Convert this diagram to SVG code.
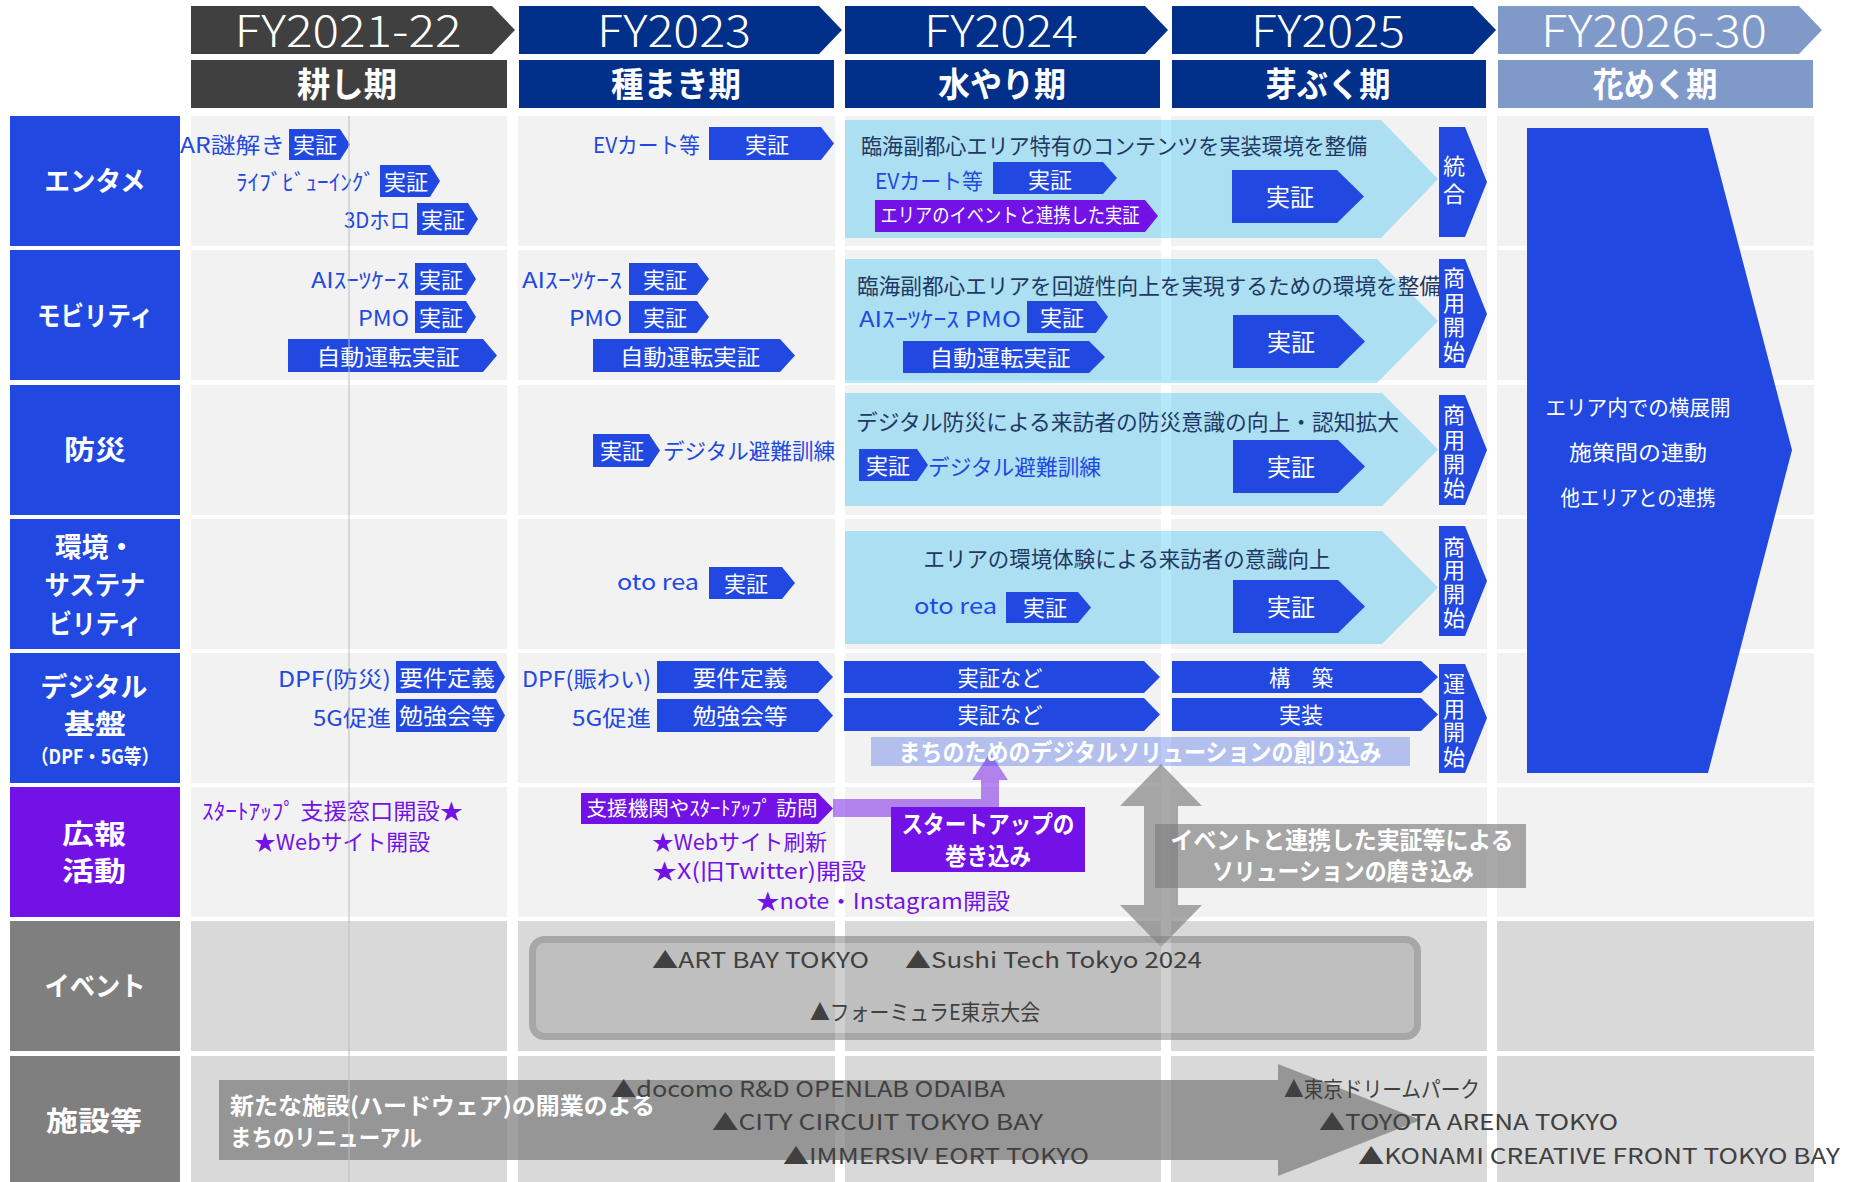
<svg xmlns="http://www.w3.org/2000/svg" width="1854" height="1182" viewBox="0 0 1854 1182">
<style>
.t{font-family:"Noto Sans CJK JP","Noto Sans",sans-serif;dominant-baseline:central;transform:translateY(-1.5px)}
.m{text-anchor:middle}.e{text-anchor:end}
.wt{fill:#fff}.bt{fill:#2149E1}.pt{fill:#7212E6}.nt{fill:#1F3864}.gt{fill:#404040}
.bd{font-weight:700}.lt{font-weight:300}
.c1{fill:#F2F2F2}.c2{fill:#D9D9D9}
.lb{fill:#2149E1}.lp{fill:#7212E6}.lg{fill:#7F7F7F}
.tb{fill:#2149E1}.tp{fill:#7212E6}
.chev{fill:#00B0F0;fill-opacity:0.29}
.s22{font-size:22px}.s20{font-size:20px}.s24{font-size:24px}.s26{font-size:26px}.s27{font-size:27px}
</style>
<rect width="1854" height="1182" fill="#fff"/>
<g id="grid">
<rect class="lb" x="10" y="116" width="170" height="130"/>
<rect class="lb" x="10" y="250" width="170" height="130"/>
<rect class="lb" x="10" y="385" width="170" height="130"/>
<rect class="lb" x="10" y="519" width="170" height="130"/>
<rect class="lb" x="10" y="653" width="170" height="130"/>
<rect class="lp" x="10" y="787" width="170" height="130"/>
<rect class="lg" x="10" y="921" width="170" height="130"/>
<rect class="lg" x="10" y="1056" width="170" height="130"/>
<g class="c1">
<rect x="191" y="116" width="316" height="130"/><rect x="518" y="116" width="317" height="130"/><rect x="845" y="116" width="316" height="130"/><rect x="1171" y="116" width="316" height="130"/><rect x="1497" y="116" width="317" height="130"/>
<rect x="191" y="250" width="316" height="130"/><rect x="518" y="250" width="317" height="130"/><rect x="845" y="250" width="316" height="130"/><rect x="1171" y="250" width="316" height="130"/><rect x="1497" y="250" width="317" height="130"/>
<rect x="191" y="385" width="316" height="130"/><rect x="518" y="385" width="317" height="130"/><rect x="845" y="385" width="316" height="130"/><rect x="1171" y="385" width="316" height="130"/><rect x="1497" y="385" width="317" height="130"/>
<rect x="191" y="519" width="316" height="130"/><rect x="518" y="519" width="317" height="130"/><rect x="845" y="519" width="316" height="130"/><rect x="1171" y="519" width="316" height="130"/><rect x="1497" y="519" width="317" height="130"/>
<rect x="191" y="653" width="316" height="130"/><rect x="518" y="653" width="317" height="130"/><rect x="845" y="653" width="316" height="130"/><rect x="1171" y="653" width="316" height="130"/><rect x="1497" y="653" width="317" height="130"/>
<rect x="191" y="787" width="316" height="130"/><rect x="518" y="787" width="317" height="130"/><rect x="845" y="787" width="316" height="130"/><rect x="1171" y="787" width="316" height="130"/><rect x="1497" y="787" width="317" height="130"/>
</g>
<g class="c2">
<rect x="191" y="921" width="316" height="130"/><rect x="518" y="921" width="317" height="130"/><rect x="845" y="921" width="316" height="130"/><rect x="1171" y="921" width="316" height="130"/><rect x="1497" y="921" width="317" height="130"/>
<rect x="191" y="1056" width="316" height="130"/><rect x="518" y="1056" width="317" height="130"/><rect x="845" y="1056" width="316" height="130"/><rect x="1171" y="1056" width="316" height="130"/><rect x="1497" y="1056" width="317" height="130"/>
</g>
</g>
<g id="header">
<path d="M191,6 H492 L515,30 L492,54 H191 Z" fill="#404040"/>
<path d="M519,6 H819 L842,30 L819,54 H519 Z" fill="#00308A"/>
<path d="M845,6 H1145 L1168,30 L1145,54 H845 Z" fill="#00308A"/>
<path d="M1172,6 H1473 L1496,30 L1473,54 H1172 Z" fill="#00308A"/>
<path d="M1498,6 H1799 L1822,30 L1799,54 H1498 Z" fill="#7F99C9"/>
<rect x="191" y="60" width="316" height="48" fill="#404040"/>
<rect x="519" y="60" width="315" height="48" fill="#00308A"/>
<rect x="845" y="60" width="315" height="48" fill="#00308A"/>
<rect x="1172" y="60" width="314" height="48" fill="#00308A"/>
<rect x="1498" y="60" width="315" height="48" fill="#7F99C9"/>
<g class="t wt m lt" font-size="44">
<text x="348" y="29" textLength="227" lengthAdjust="spacingAndGlyphs">FY2021-22</text>
<text x="674" y="29" textLength="154" lengthAdjust="spacingAndGlyphs">FY2023</text>
<text x="1001" y="29" textLength="154" lengthAdjust="spacingAndGlyphs">FY2024</text>
<text x="1328" y="29" textLength="154" lengthAdjust="spacingAndGlyphs">FY2025</text>
<text x="1654" y="29" textLength="226" lengthAdjust="spacingAndGlyphs">FY2026-30</text>
</g>
<g class="t wt m bd" font-size="34">
<text x="347" y="84" textLength="100" lengthAdjust="spacingAndGlyphs">耕し期</text>
<text x="676" y="84" textLength="130" lengthAdjust="spacingAndGlyphs">種まき期</text>
<text x="1002" y="84" textLength="128" lengthAdjust="spacingAndGlyphs">水やり期</text>
<text x="1328" y="84" textLength="125" lengthAdjust="spacingAndGlyphs">芽ぶく期</text>
<text x="1655" y="84" textLength="125" lengthAdjust="spacingAndGlyphs">花めく期</text>
</g>
</g>
<g id="row-labels" class="t wt m bd s27">
<text x="95" y="181" textLength="101" lengthAdjust="spacingAndGlyphs">エンタメ</text>
<text x="95" y="316" textLength="116" lengthAdjust="spacingAndGlyphs">モビリティ</text>
<text x="95" y="450" textLength="62" lengthAdjust="spacingAndGlyphs">防災</text>
<text x="95" y="547" textLength="80" lengthAdjust="spacingAndGlyphs">環境・</text>
<text x="95" y="585" textLength="101" lengthAdjust="spacingAndGlyphs">サステナ</text>
<text x="95" y="624" textLength="93" lengthAdjust="spacingAndGlyphs">ビリティ</text>
<text x="94" y="687" textLength="107" lengthAdjust="spacingAndGlyphs">デジタル</text>
<text x="95" y="724" textLength="62" lengthAdjust="spacingAndGlyphs">基盤</text>
<text x="95" y="757" class="s20" textLength="128" lengthAdjust="spacingAndGlyphs">（DPF・5G等）</text>
<text x="94" y="834" textLength="64" lengthAdjust="spacingAndGlyphs">広報</text>
<text x="94" y="871" textLength="64" lengthAdjust="spacingAndGlyphs">活動</text>
<text x="95" y="986" textLength="101" lengthAdjust="spacingAndGlyphs">イベント</text>
<text x="94" y="1121" textLength="96" lengthAdjust="spacingAndGlyphs">施設等</text>
</g>
<g id="connectors">
<path id="startup-arrow" d="M833,799 H981 V780 H972 L990,753 L1008,780 H999 V817 H833 Z" fill="#7212E6" fill-opacity="0.5"/>
<path id="event-double-arrow" d="M1161,764 L1202,806 H1178 V905 H1202 L1161,947 L1120,905 H1144 V806 H1120 Z" fill="#7F7F7F" fill-opacity="0.67"/>
</g>
<g id="entame">
<g class="t bt s22 e">
<text x="285" y="144" textLength="105" lengthAdjust="spacingAndGlyphs">AR謎解き</text>
<text x="375" y="181" textLength="139" lengthAdjust="spacingAndGlyphs">ﾗｲﾌﾞﾋﾞｭｰｲﾝｸﾞ</text>
<text x="410" y="219" textLength="66" lengthAdjust="spacingAndGlyphs">3Dホロ</text>
<text x="700" y="144" textLength="107" lengthAdjust="spacingAndGlyphs">EVカート等</text>
</g>
<path class="tb" d="M289,129 H340 L350,144.5 L340,160 H289 Z"/>
<path class="tb" d="M380,165 H430 L440,181 L430,197 H380 Z"/>
<path class="tb" d="M417,203 H468 L478,219 L468,235 H417 Z"/>
<path class="tb" d="M709,127 H821 L834,143.5 L821,160 H709 Z"/>
<g class="t wt m s22">
<text x="315" y="144.5">実証</text>
<text x="406" y="181">実証</text>
<text x="443" y="219">実証</text>
<text x="767" y="144">実証</text>
</g>
<path class="chev" d="M845,120 H1381 L1438,179 L1381,238 H845 Z"/>
<text class="t nt s22" x="861" y="145" textLength="506" lengthAdjust="spacingAndGlyphs">臨海副都心エリア特有のコンテンツを実装環境を整備</text>
<text class="t bt s22" x="875" y="180" textLength="108" lengthAdjust="spacingAndGlyphs">EVカート等</text>
<path class="tb" d="M993,162 H1103 L1117,178 L1103,194 H993 Z"/>
<text class="t wt m s22" x="1050" y="179">実証</text>
<path class="tp" d="M875,200 H1145 L1158,216 L1145,232 H875 Z"/>
<text class="t wt m s20" x="1010" y="216" textLength="259" lengthAdjust="spacingAndGlyphs">エリアのイベントと連携した実証</text>
<path class="tb" d="M1232,170 H1337 L1364,196.5 L1337,223 H1232 Z"/>
<text class="t wt m s24" x="1290" y="197">実証</text>
<path class="tb" d="M1439,127 H1465 L1487,182 L1465,237 H1439 Z"/>
<g class="t wt m s22"><text x="1454" y="165">統</text><text x="1454" y="193">合</text></g>
</g>
<g id="mobility">
<g class="t bt s22 e">
<text x="409" y="279" textLength="98" lengthAdjust="spacingAndGlyphs">AIｽｰﾂｹｰｽ</text>
<text x="409" y="317" textLength="51" lengthAdjust="spacingAndGlyphs">PMO</text>
<text x="622" y="279" textLength="100" lengthAdjust="spacingAndGlyphs">AIｽｰﾂｹｰｽ</text>
<text x="622" y="317" textLength="53" lengthAdjust="spacingAndGlyphs">PMO</text>
</g>
<path class="tb" d="M415,263 H466 L476,279 L466,295 H415 Z"/>
<path class="tb" d="M415,301 H466 L476,317 L466,333 H415 Z"/>
<path class="tb" d="M288,339 H483 L497,355.5 L483,372 H288 Z"/>
<path class="tb" d="M629,263 H697 L709,279 L697,295 H629 Z"/>
<path class="tb" d="M629,301 H697 L709,317 L697,333 H629 Z"/>
<path class="tb" d="M593,339 H780 L795,355.5 L780,372 H593 Z"/>
<g class="t wt m s22">
<text x="441" y="279">実証</text>
<text x="441" y="317">実証</text>
<text x="388" y="356" textLength="143" lengthAdjust="spacingAndGlyphs">自動運転実証</text>
<text x="665" y="279">実証</text>
<text x="665" y="317">実証</text>
<text x="690" y="356" textLength="140" lengthAdjust="spacingAndGlyphs">自動運転実証</text>
</g>
<path class="chev" d="M845,259 H1377 L1438,321 L1377,383 H845 Z"/>
<text class="t nt s22" x="857" y="285" textLength="584" lengthAdjust="spacingAndGlyphs">臨海副都心エリアを回遊性向上を実現するための環境を整備</text>
<text class="t bt s22" x="859" y="318" textLength="162" lengthAdjust="spacingAndGlyphs">AIｽｰﾂｹｰｽ PMO</text>
<path class="tb" d="M1027,301 H1096 L1108,317 L1096,333 H1027 Z"/>
<text class="t wt m s22" x="1062" y="317">実証</text>
<path class="tb" d="M903,341 H1089 L1105,357 L1089,373 H903 Z"/>
<text class="t wt m s22" x="1000" y="357" textLength="141" lengthAdjust="spacingAndGlyphs">自動運転実証</text>
<path class="tb" d="M1233,315 H1338 L1365,341.5 L1338,368 H1233 Z"/>
<text class="t wt m s24" x="1291" y="342">実証</text>
<path class="tb" d="M1439,259 H1465 L1487,314 L1465,368 H1439 Z"/>
<g class="t wt m s22"><text x="1454" y="277">商</text><text x="1454" y="302">用</text><text x="1454" y="326">開</text><text x="1454" y="351">始</text></g>
</g>
<g id="bousai">
<path class="tb" d="M593,434 H649 L660,450.5 L649,467 H593 Z"/>
<text class="t wt m s22" x="622" y="450">実証</text>
<text class="t bt s22" x="663" y="450" textLength="172" lengthAdjust="spacingAndGlyphs">デジタル避難訓練</text>
<path class="chev" d="M845,393 H1382 L1438,449.5 L1382,506 H845 Z"/>
<text class="t nt s22" x="856" y="421" textLength="543" lengthAdjust="spacingAndGlyphs">デジタル防災による来訪者の防災意識の向上・認知拡大</text>
<path class="tb" d="M859,449 H917 L928,465 L917,481 H859 Z"/>
<text class="t wt m s22" x="888" y="465">実証</text>
<text class="t bt s22" x="928" y="466" textLength="173" lengthAdjust="spacingAndGlyphs">デジタル避難訓練</text>
<path class="tb" d="M1233,440 H1338 L1365,466.5 L1338,493 H1233 Z"/>
<text class="t wt m s24" x="1291" y="467">実証</text>
<path class="tb" d="M1439,395 H1465 L1487,450 L1465,505 H1439 Z"/>
<g class="t wt m s22"><text x="1454" y="414">商</text><text x="1454" y="439">用</text><text x="1454" y="463">開</text><text x="1454" y="487">始</text></g>
</g>
<g id="kankyo">
<text class="t bt s22 e" x="699" y="581" textLength="82" lengthAdjust="spacingAndGlyphs">oto rea</text>
<path class="tb" d="M709,567 H782 L795,583 L782,599 H709 Z"/>
<text class="t wt m s22" x="746" y="583">実証</text>
<path class="chev" d="M845,531 H1382 L1438,587.5 L1382,644 H845 Z"/>
<text class="t nt s22 m" x="1127" y="558" textLength="407" lengthAdjust="spacingAndGlyphs">エリアの環境体験による来訪者の意識向上</text>
<text class="t bt s22" x="914" y="605" textLength="83" lengthAdjust="spacingAndGlyphs">oto rea</text>
<path class="tb" d="M1006,592 H1078 L1091,607.5 L1078,623 H1006 Z"/>
<text class="t wt m s22" x="1045" y="607.5">実証</text>
<path class="tb" d="M1233,580 H1338 L1365,606.5 L1338,633 H1233 Z"/>
<text class="t wt m s24" x="1291" y="607">実証</text>
<path class="tb" d="M1439,526 H1465 L1487,581 L1465,636 H1439 Z"/>
<g class="t wt m s22"><text x="1454" y="546">商</text><text x="1454" y="569">用</text><text x="1454" y="593">開</text><text x="1454" y="617">始</text></g>
</g>
<g id="digital">
<g class="t bt s22 e">
<text x="391" y="678" textLength="113" lengthAdjust="spacingAndGlyphs">DPF(防災)</text>
<text x="391" y="717" textLength="78" lengthAdjust="spacingAndGlyphs">5G促進</text>
<text x="651" y="678" textLength="129" lengthAdjust="spacingAndGlyphs">DPF(賑わい)</text>
<text x="651" y="717" textLength="79" lengthAdjust="spacingAndGlyphs">5G促進</text>
</g>
<path class="tb" d="M396,661 H496 L505,677 L496,693 H396 Z"/>
<path class="tb" d="M396,699 H496 L505,715.5 L496,732 H396 Z"/>
<path class="tb" d="M657,661 H818 L833,677 L818,693 H657 Z"/>
<path class="tb" d="M657,699 H818 L833,715.5 L818,732 H657 Z"/>
<path class="tb" d="M844,661 H1144 L1160,677 L1144,693 H844 Z"/>
<path class="tb" d="M844,698 H1144 L1160,714.5 L1144,731 H844 Z"/>
<path class="tb" d="M1172,661 H1421 L1438,677 L1421,693 H1172 Z"/>
<path class="tb" d="M1172,698 H1421 L1438,714.5 L1421,731 H1172 Z"/>
<g class="t wt m s22">
<text x="447" y="677" textLength="96" lengthAdjust="spacingAndGlyphs">要件定義</text>
<text x="447" y="715.5" textLength="96" lengthAdjust="spacingAndGlyphs">勉強会等</text>
<text x="740" y="677" textLength="95" lengthAdjust="spacingAndGlyphs">要件定義</text>
<text x="740" y="715.5" textLength="95" lengthAdjust="spacingAndGlyphs">勉強会等</text>
<text x="1000" y="677" textLength="85" lengthAdjust="spacingAndGlyphs">実証など</text>
<text x="1000" y="714.5" textLength="85" lengthAdjust="spacingAndGlyphs">実証など</text>
<text x="1301" y="677" textLength="64" lengthAdjust="spacingAndGlyphs">構　築</text>
<text x="1301" y="714.5">実装</text>
</g>
<path class="tb" d="M1439,664 H1465 L1487,718 L1465,773 H1439 Z"/>
<g class="t wt m s22"><text x="1454" y="683">運</text><text x="1454" y="708">用</text><text x="1454" y="731">開</text><text x="1454" y="756">始</text></g>
<rect x="871" y="737" width="539" height="29" fill="#2149E1" fill-opacity="0.3"/>
<text class="t wt m bd s24" x="1140" y="752" textLength="483" lengthAdjust="spacingAndGlyphs">まちのためのデジタルソリューションの創り込み</text>
</g>
<g id="future">
<path d="M1527,128 H1708 L1792,450 L1708,773 H1527 Z" fill="#2149E1"/>
<g class="t wt m" font-size="21">
<text x="1638" y="407" textLength="185" lengthAdjust="spacingAndGlyphs">エリア内での横展開</text>
<text x="1638" y="452" textLength="138" lengthAdjust="spacingAndGlyphs">施策間の連動</text>
<text x="1638" y="497" textLength="155" lengthAdjust="spacingAndGlyphs">他エリアとの連携</text>
</g>
</g>
<g id="pr">
<g class="t pt s22">
<text x="202" y="810" textLength="261" lengthAdjust="spacingAndGlyphs">ｽﾀｰﾄｱｯﾌﾟ 支援窓口開設★</text>
<text x="254" y="841" textLength="176" lengthAdjust="spacingAndGlyphs">★Webサイト開設</text>
<text x="652" y="841" textLength="175" lengthAdjust="spacingAndGlyphs">★Webサイト刷新</text>
<text x="652" y="870" textLength="214" lengthAdjust="spacingAndGlyphs">★X(旧Twitter)開設</text>
<text x="756" y="900" textLength="254" lengthAdjust="spacingAndGlyphs">★note・Instagram開設</text>
</g>
<path class="tp" d="M581,793 H818 L833,808.5 L818,824 H581 Z"/>
<text class="t wt m s20" x="702" y="808.5" textLength="231" lengthAdjust="spacingAndGlyphs">支援機関やｽﾀｰﾄｱｯﾌﾟ 訪問</text>
</g>
<g id="startup-box">
<rect class="tp" x="891" y="807" width="194" height="65"/>
<g class="t wt m bd s24">
<text x="988" y="824" textLength="173" lengthAdjust="spacingAndGlyphs">スタートアップの</text>
<text x="988" y="856" textLength="86" lengthAdjust="spacingAndGlyphs">巻き込み</text>
</g>
</g>
<g id="solution-box">
<rect x="1155" y="824" width="371" height="64" fill="#7F7F7F" fill-opacity="0.67"/>
<g class="t wt m bd s24">
<text x="1342" y="840" textLength="343" lengthAdjust="spacingAndGlyphs">イベントと連携した実証等による</text>
<text x="1343" y="871" textLength="262" lengthAdjust="spacingAndGlyphs">ソリューションの磨き込み</text>
</g>
</g>
<g id="events">
<g opacity="0.55"><rect x="532.5" y="939.5" width="885" height="97" rx="12" fill="#ABABAB" stroke="#808080" stroke-width="7"/></g>
<g class="t gt s22">
<text x="652" y="959" textLength="217" lengthAdjust="spacingAndGlyphs">▲ART BAY TOKYO</text>
<text x="905" y="959" textLength="297" lengthAdjust="spacingAndGlyphs">▲Sushi Tech Tokyo 2024</text>
<text x="810" y="1011" textLength="230" lengthAdjust="spacingAndGlyphs">▲フォーミュラE東京大会</text>
</g>
</g>
<g id="facilities">
<path d="M219,1080 H1278 V1064 L1421,1120 L1278,1176 V1160 H219 Z" fill="#7F7F7F" fill-opacity="0.74"/>
<g class="t wt bd" font-size="23">
<text x="230" y="1105" textLength="425" lengthAdjust="spacingAndGlyphs">新たな施設(ハードウェア)の開業のよる</text>
<text x="230" y="1137" textLength="192" lengthAdjust="spacingAndGlyphs">まちのリニューアル</text>
</g>
<g class="t gt s22">
<text x="611" y="1088" textLength="394" lengthAdjust="spacingAndGlyphs">▲docomo R&amp;D OPENLAB ODAIBA</text>
<text x="712" y="1121" textLength="331" lengthAdjust="spacingAndGlyphs">▲CITY CIRCUIT TOKYO BAY</text>
<text x="783" y="1155" textLength="306" lengthAdjust="spacingAndGlyphs">▲IMMERSIV EORT TOKYO</text>
<text x="1284" y="1088" textLength="196" lengthAdjust="spacingAndGlyphs">▲東京ドリームパーク</text>
<text x="1319" y="1121" textLength="299" lengthAdjust="spacingAndGlyphs">▲TOYOTA ARENA TOKYO</text>
<text x="1358" y="1155" textLength="482" lengthAdjust="spacingAndGlyphs">▲KONAMI CREATIVE FRONT TOKYO BAY</text>
</g>
</g>
<line x1="349" y1="116" x2="349" y2="1182" stroke="#BDBDBD" stroke-width="1"/>
</svg>
